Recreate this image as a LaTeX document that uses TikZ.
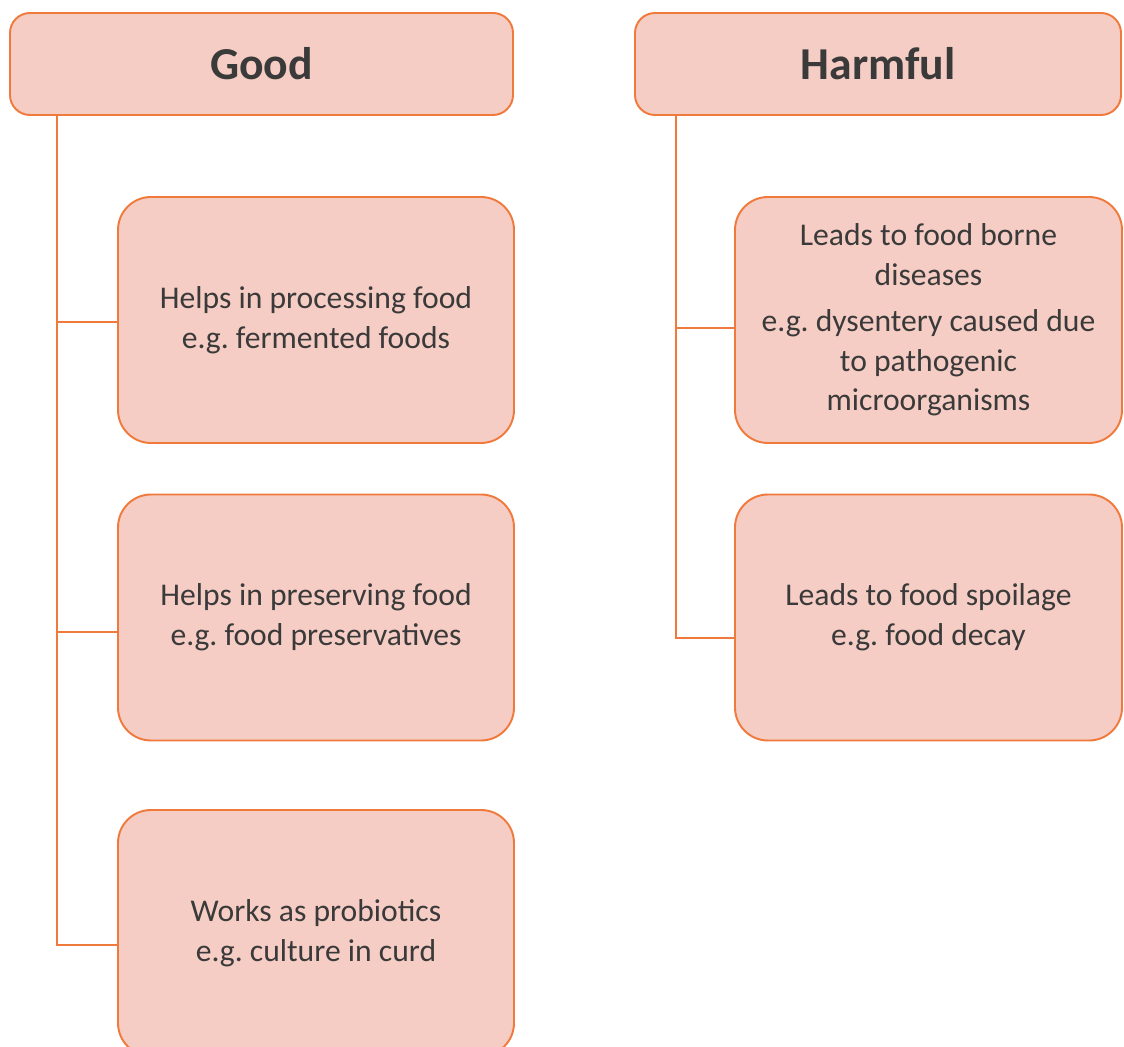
\documentclass[tikz,border=0pt]{standalone}
\usepackage{fontspec}
\setmainfont{Carlito}
\usepackage{tikz}
\usetikzlibrary{positioning}
\frenchspacing

\definecolor{boxfill}{HTML}{F6CDC4}
\definecolor{boxline}{HTML}{F07A3C}
\definecolor{txtgrey}{HTML}{3A3A3A}

\tikzset{
  header/.style={rectangle,rounded corners=0.4cm,draw=boxline,fill=boxfill,line width=1.1pt,
    minimum height=2.04cm,text=txtgrey,font=\fontsize{26}{30}\selectfont\bfseries},
  itembox/.style={rectangle,rounded corners=0.66cm,draw=boxline,fill=boxfill,line width=1.1pt,
    minimum height=4.92cm,text=txtgrey,align=center,font=\fontsize{18}{22.5}\selectfont},
  link/.style={draw=boxline,line width=1.1pt}
}

\begin{document}
\begin{tikzpicture}
  \useasboundingbox (0,0) rectangle (22.48,-20.94);
  \begin{scope}
    \clip (0,0) rectangle (22.48,-20.94);
    \node [header,minimum width=10.06cm] (good) at (5.23,-1.28) {Good};
    \node [header,minimum width=9.72cm] (harmful) at (17.56,-1.28) {Harmful};

    \node [itembox,minimum width=7.92cm] (processing) at (6.32,-6.4) {Helps in processing food\\e.g. fermented foods};
    \node [itembox,minimum width=7.92cm] (preserving) at (6.32,-12.35) {Helps in preserving food\\e.g. food preservatives};
    \node [itembox,minimum width=7.92cm] (probiotics) at (6.32,-18.66) {Works as probiotics\\e.g. culture in curd};

    \node [itembox,minimum width=7.74cm] (diseases) at (18.57,-6.4) {Leads to food borne\\diseases\\[4pt]e.g. dysentery caused due\\to pathogenic\\microorganisms};
    \node [itembox,minimum width=7.74cm] (spoilage) at (18.57,-12.35) {Leads to food spoilage\\e.g. food decay};

    \coordinate (goodtrunk) at (1.14,0);
    \coordinate (harmtrunk) at (13.52,0);

    \draw [link] (good.south -| goodtrunk) |- ([yshift=-0.04cm]processing.west);
    \draw [link] (good.south -| goodtrunk) |- ([yshift=-0.29cm]preserving.west);
    \draw [link] (good.south -| goodtrunk) |- ([yshift=-0.24cm]probiotics.west);
    \draw [link] (harmful.south -| harmtrunk) |- ([yshift=-0.16cm]diseases.west);
    \draw [link] (harmful.south -| harmtrunk) |- ([yshift=-0.41cm]spoilage.west);
  \end{scope}
\end{tikzpicture}
\end{document}
